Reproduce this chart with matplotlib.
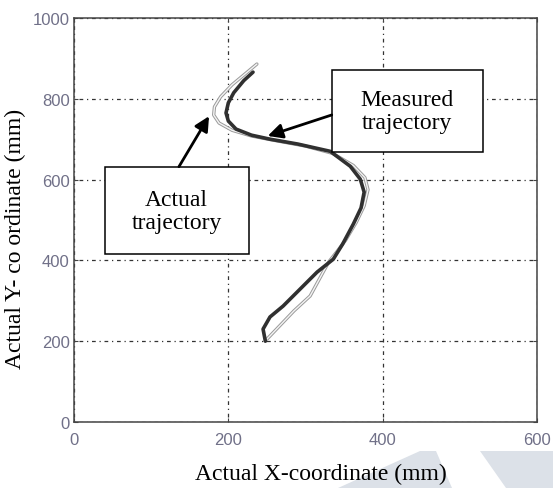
import matplotlib
matplotlib.use("Agg")
import matplotlib.pyplot as plt
from matplotlib.patches import Rectangle, Polygon

meas_x = [232, 220, 207, 200, 197, 200, 210, 230, 254, 290, 332, 358, 371, 376,
          372, 362, 348, 336, 315, 293, 271, 254, 245, 248]
meas_y = [866, 845, 815, 790, 765, 745, 725, 710, 700, 688, 670, 633, 601, 569,
          530, 490, 440, 403, 371, 329, 287, 260, 230, 200]

# Trayectoria real (línea delgada clara)
act_x = [237, 222, 205, 190, 182, 181, 188, 205, 230, 260, 300, 335, 362, 377,
         381, 376, 366, 352, 340, 330, 306, 285, 271, 250]
act_y = [886, 862, 835, 805, 780, 760, 740, 722, 708, 697, 683, 665, 635, 605,
         575, 535, 495, 450, 420, 396, 312, 275, 247, 205]

x_ticks = [0, 200, 400, 600]
y_ticks = [0, 200, 400, 600, 800, 1000]

serif = "Liberation Serif"
sans = "Liberation Sans"
tick_color = "#707088"

fig = plt.figure(figsize=(5.53, 4.89), dpi=100)

# marca de agua al fondo (esquina inferior derecha)
W, H = 553, 489
for pts in ([(338, 489), (420, 452), (436, 452), (452, 489)],
            [(480, 452), (553, 452), (553, 489), (506, 489)]):
    fig.patches.append(Polygon([(px / W, 1 - py / H) for px, py in pts],
                               closed=True, transform=fig.transFigure,
                               facecolor="#dce1e8", edgecolor="none", zorder=-5))

ax = fig.add_axes([74 / W, 1 - 423 / H, (537 - 74) / W, (423 - 19) / H])
ax.set_zorder(2)
ax.patch.set_alpha(0)
ax.set_xlim(0, 600)
ax.set_ylim(0, 1000)
ax.set_xticks(x_ticks)
ax.set_yticks(y_ticks)
ax.set_xticklabels([str(v) for v in x_ticks], family=sans, fontsize=12, color=tick_color)
ax.set_yticklabels([str(v) for v in y_ticks], family=sans, fontsize=12, color=tick_color)
ax.tick_params(axis="both", direction="in", length=3, color="#444444",
               top=True, right=True, width=0.8)
ax.tick_params(axis="y", pad=3)
ax.tick_params(axis="x", pad=7)
ax.grid(True, color="#333333", linewidth=0.9, linestyle=(0, (1, 3, 3, 3)))
for s in ax.spines.values():
    s.set_color("#444444")
    s.set_linewidth(1.1)

# curvas
ax.plot(act_x, act_y, color="#9a9a9a", linewidth=2.4, solid_capstyle="round", zorder=3)
ax.plot(act_x, act_y, color="#f4f4f4", linewidth=1.0, solid_capstyle="round", zorder=3)
ax.plot(meas_x, meas_y, color="#303030", linewidth=2.6, solid_capstyle="round", zorder=4)

# cajas de anotación
ax.add_patch(Rectangle((334, 668), 196, 203, facecolor="white", edgecolor="black",
                       linewidth=1.1, zorder=5))
ax.text(432, 770, "Measured\ntrajectory", ha="center", va="center", family=serif,
        fontsize=17, linespacing=1.1, zorder=6)
ax.add_patch(Rectangle((40, 416), 187, 215, facecolor="white", edgecolor="black",
                       linewidth=1.1, zorder=5))
ax.text(133, 523, "Actual\ntrajectory", ha="center", va="center", family=serif,
        fontsize=17, linespacing=1.1, zorder=6)

arrow = dict(arrowstyle="-|>", color="black", lw=2, mutation_scale=22,
             shrinkA=0, shrinkB=0)
ax.annotate("", xy=(251, 708), xytext=(334, 760), arrowprops=arrow, zorder=6)
ax.annotate("", xy=(175, 757), xytext=(136, 632), arrowprops=arrow, zorder=6)

ax.set_xlabel("Actual X-coordinate (mm)", family=serif, fontsize=17)
ax.set_ylabel("Actual Y- co ordinate (mm)", family=serif, fontsize=17)
ax.xaxis.set_label_coords((321 - 74) / 463, (423 - 474) / 404)
ax.xaxis.label.set_va("center")
ax.yaxis.set_label_coords((15 - 74) / 463, (423 - 239) / 404)
ax.yaxis.label.set_va("center")

fig.savefig("out.png", dpi=100)
